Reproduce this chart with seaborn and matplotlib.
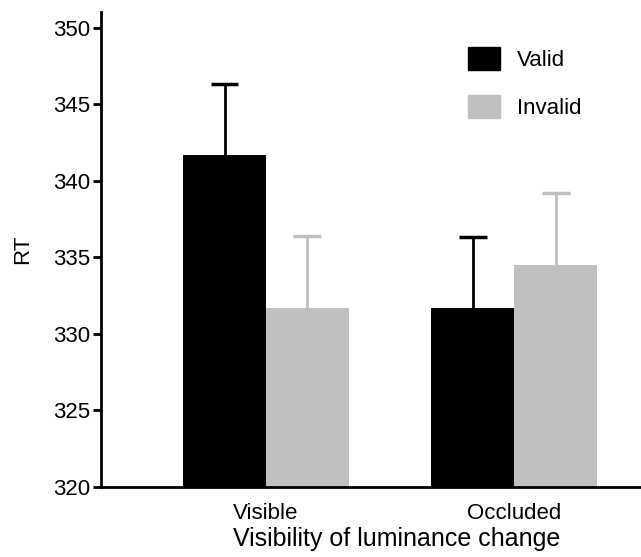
import matplotlib
matplotlib.use("Agg")
import matplotlib.pyplot as plt
import matplotlib.patches as mpatches
import seaborn as sns
import pandas as pd

# -------------------------
# Data
# -------------------------
conditions = ["Visible", "Occluded"]
cue_types = ["Valid", "Invalid"]
valid_rt = [341.7, 331.7]
invalid_rt = [331.7, 334.5]
valid_err = [4.6, 4.6]
invalid_err = [4.7, 4.7]
colors = {"Valid": "#000000", "Invalid": "#bfbfbf"}

df = pd.DataFrame({
    "condition": conditions * 2,
    "cue": ["Valid"] * 2 + ["Invalid"] * 2,
    "rt": valid_rt + invalid_rt,
    "err": valid_err + invalid_err,
})

sns.set_style("ticks")
plt.rcParams["font.family"] = ["Liberation Sans", "DejaVu Sans"]
plt.rcParams["text.color"] = "black"
plt.rcParams["axes.labelcolor"] = "black"
plt.rcParams["xtick.color"] = "black"
plt.rcParams["ytick.color"] = "black"
plt.rcParams["axes.edgecolor"] = "black"

fig = plt.figure(figsize=(6.41, 5.57), dpi=100)
ax = fig.add_axes([0.158, 0.126, 0.842, 0.852])

sns.barplot(data=df, x="condition", y="rt", hue="cue", order=conditions,
            hue_order=cue_types, palette=colors, errorbar=None,
            width=0.667, linewidth=0, saturation=1, ax=ax, legend=False)

# upper-only error bars (stem + top cap), coloured like their bars
cap = 0.112
for cue, cont in zip(cue_types, ax.containers):
    sub = df[df["cue"] == cue].set_index("condition").loc[conditions]
    xs = [b.get_x() + b.get_width() / 2 for b in cont]
    tops = sub["rt"] + sub["err"]
    ax.vlines(xs, sub["rt"], tops, color=colors[cue], lw=2)
    ax.hlines(tops, [x - cap / 2 for x in xs], [x + cap / 2 for x in xs],
              color=colors[cue], lw=2.5)

ax.set_ylim(320, 351)
ax.set_xlim(-0.663, 1.51)
ax.set_yticks(range(320, 351, 5))
ax.tick_params(axis="y", length=6, width=2, labelsize=16, pad=2)
ax.tick_params(axis="x", length=0, labelsize=16, pad=12)
for s in ["top", "right"]:
    ax.spines[s].set_visible(False)
for s in ["left", "bottom"]:
    ax.spines[s].set_linewidth(2)

ax.set_ylabel("RT", fontsize=16, labelpad=14)
ax.set_xlabel("Visibility of luminance change", fontsize=18)
ax.xaxis.set_label_coords(0.548, -0.084)

handles = [mpatches.Patch(color=colors[c], label=c) for c in cue_types]
fig.legend(handles=handles, loc="upper left", bbox_to_anchor=(0.730, 0.916),
           frameon=False, fontsize=16, handlelength=1.44, handleheight=1.22,
           labelspacing=1.08, handletextpad=0.77, borderpad=0, borderaxespad=0)

fig.savefig("out.png", dpi=100)
